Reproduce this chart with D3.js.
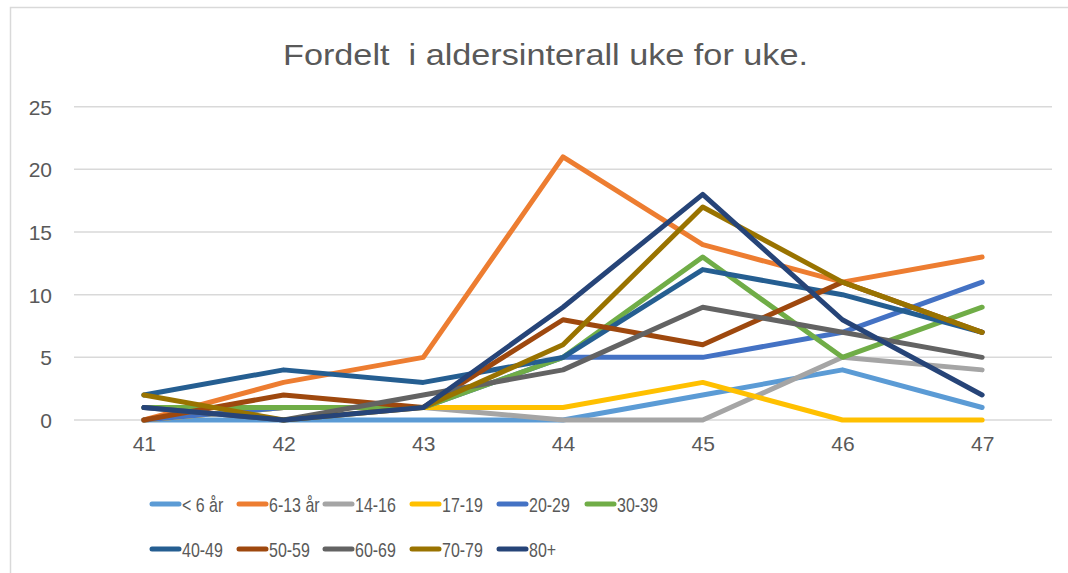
<!DOCTYPE html>
<html><head><meta charset="utf-8">
<script src="https://cdn.jsdelivr.net/npm/d3@7"></script>
<style>body{margin:0;background:#fff}svg{display:block}</style>
</head><body><svg id="c" width="1068" height="573"></svg>
<script>
const weeks = ["41","42","43","44","45","46","47"];
const seriesNames = ["< 6 år","6-13 år","14-16","17-19","20-29","30-39","40-49","50-59","60-69","70-79","80+"];
const s_lt6   = [0,0,0,0,2,4,1];
const s_6_13  = [0,3,5,21,14,11,13];
const s_14_16 = [0,1,1,0,0,5,4];
const s_17_19 = [0,1,1,1,3,0,0];
const s_20_29 = [0,1,1,5,5,7,11];
const s_30_39 = [1,1,1,5,13,5,9];
const s_40_49 = [2,4,3,5,12,10,7];
const s_50_59 = [0,2,1,8,6,11,7];
const s_60_69 = [1,0,2,4,9,7,5];
const s_70_79 = [2,0,1,6,17,11,7];
const s_80p   = [1,0,1,9,18,8,2];
const seriesValues = [s_lt6,s_6_13,s_14_16,s_17_19,s_20_29,s_30_39,s_40_49,s_50_59,s_60_69,s_70_79,s_80p];
const colors = ["#5B9BD5","#ED7D31","#A5A5A5","#FFC000","#4472C4","#70AD47","#255E91","#9E480E","#636363","#997300","#264478"];
const yTicks = [0,5,10,15,20,25];
const titleText = "Fordelt  i aldersinterall uke for uke.";

const svg = d3.select("#c");
const font = "'Liberation Sans', Arial, sans-serif";
const textCol = "#595959";

function condense(sel, k){
  sel.each(function(){
    const w = this.getComputedTextLength();
    d3.select(this).attr("textLength", w*k).attr("lengthAdjust","spacingAndGlyphs");
  });
}

// chart border
svg.append("rect").attr("x",10.5).attr("y",7.5).attr("width",1070).attr("height",580)
  .attr("fill","none").attr("stroke","#D9D9D9").attr("stroke-width",1.5);

const x = d3.scalePoint().domain(weeks).range([74,1052]).padding(0.5);
const y = d3.scaleLinear().domain([0,25]).range([420,106.7]);

// gridlines
svg.append("g").selectAll("line").data(yTicks).join("line")
  .attr("x1",74).attr("x2",1052).attr("y1",d=>y(d)).attr("y2",d=>y(d))
  .attr("stroke","#D9D9D9").attr("stroke-width",1.5);

// y axis labels
const yAxis = svg.append("g").attr("transform","translate(52,0)")
  .call(d3.axisLeft(y).tickValues(yTicks).tickSize(0).tickPadding(0));
yAxis.select(".domain").remove();
yAxis.selectAll("text").attr("font-family",font).attr("font-size",21).attr("fill",textCol).attr("dy","0.35em");

// x axis labels
const xAxis = svg.append("g").attr("transform","translate(0,436)")
  .call(d3.axisBottom(x).tickSize(0).tickPadding(0));
xAxis.select(".domain").remove();
xAxis.selectAll("text").attr("font-family",font).attr("font-size",21).attr("fill",textCol).attr("dy","0.71em");

// lines
const line = d3.line().x((d,i)=>x(weeks[i])).y(d=>y(d));
svg.append("g").selectAll("path").data(seriesValues).join("path")
  .attr("d",d=>line(d)).attr("fill","none")
  .attr("stroke",(d,i)=>colors[i]).attr("stroke-width",5)
  .attr("stroke-linejoin","round").attr("stroke-linecap","round");

// title
svg.append("text").attr("x",545.5).attr("y",65).attr("text-anchor","middle")
  .attr("font-family",font).attr("font-size",30).attr("fill",textCol)
  .attr("textLength",525).attr("lengthAdjust","spacingAndGlyphs")
  .style("white-space","pre").text(titleText);

// legend
const legX = [152,239,325,412,499,587];
const legY = [504,549];
const leg = svg.append("g").selectAll("g").data(seriesNames).join("g")
  .attr("transform",(d,i)=>`translate(${legX[i%6]},${legY[Math.floor(i/6)]})`);
leg.append("line").attr("x1",0).attr("x2",27).attr("y1",0).attr("y2",0)
  .attr("stroke",(d,i)=>colors[i]).attr("stroke-width",5).attr("stroke-linecap","round");
const lt = leg.append("text").attr("x",30).attr("y",0).attr("dy","0.36em")
  .attr("font-family",font).attr("font-size",21).attr("fill",textCol).text(d=>d);
condense(lt, 0.76);
</script></body></html>
